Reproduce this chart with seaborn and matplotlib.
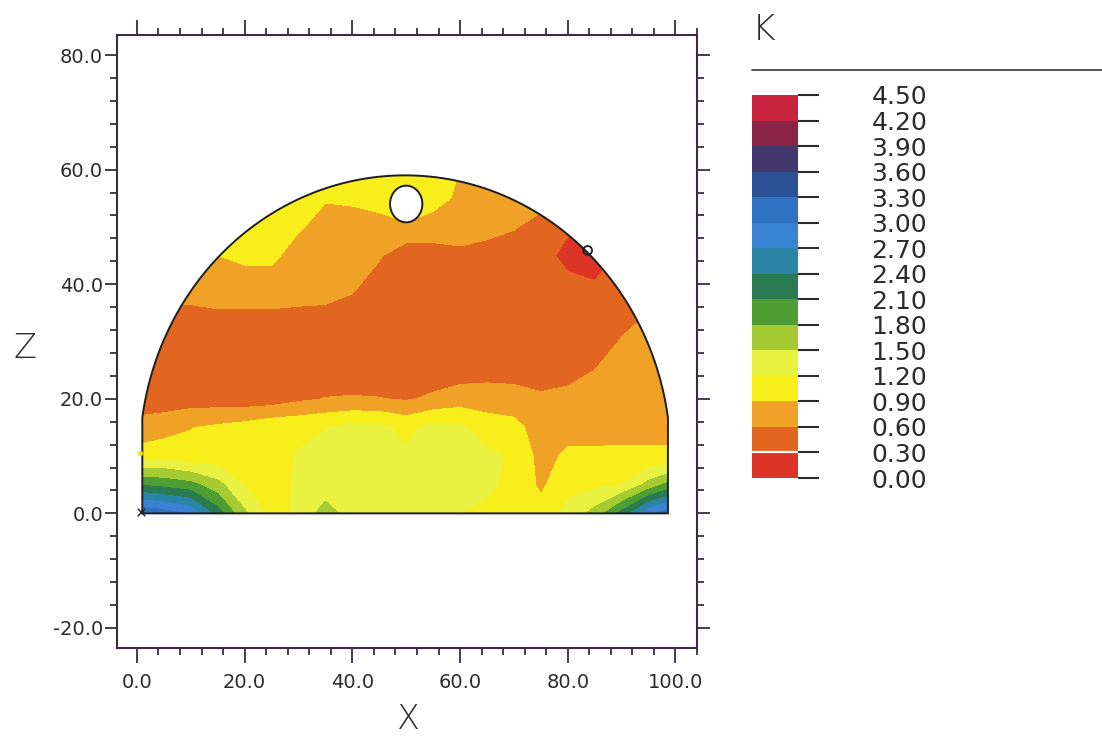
import numpy as np
import matplotlib
matplotlib.use("Agg")
import matplotlib.pyplot as plt
from matplotlib.colors import ListedColormap, BoundaryNorm
from matplotlib.patches import Polygon, Ellipse
from matplotlib.lines import Line2D
from matplotlib.ticker import MultipleLocator, FormatStrFormatter
import seaborn as sns

## data
# grid nodes (x across, z up)
x_nodes = np.arange(0, 101, 5)
z_nodes = np.arange(0, 61, 5)

# K values, one row per z level, x = 0, 5, ..., 100
k_z00 = [3.3, 3.15, 2.95, 2.25, 1.55, 1.1, 1.25, 1.65, 1.35, 1.25, 1.2, 1.25, 1.2, 1.15, 1.1, 1.0, 1.3, 1.6, 2.2, 2.9, 3.3]
k_z05 = [2.1, 2.0, 1.9, 1.6, 1.2, 1.05, 1.25, 1.3, 1.3, 1.25, 1.3, 1.32, 1.3, 1.25, 1.12, 0.85, 1.1, 1.15, 1.2, 1.6, 2.0]
k_z10 = [1.03, 1.11, 0.99, 1.0, 1.05, 1.1, 1.22, 1.3, 1.32, 1.3, 1.25, 1.3, 1.32, 1.28, 1.15, 0.8, 0.95, 0.95, 0.95, 0.95, 0.95]
k_z15 = [0.70, 0.76, 0.89, 0.95, 1.02, 1.12, 1.14, 1.19, 1.28, 1.27, 1.12, 1.3, 1.25, 1.05, 1.0, 0.75, 0.8, 0.8, 0.82, 0.82, 0.82]
k_z20 = [0.45, 0.45, 0.45, 0.44, 0.42, 0.44, 0.54, 0.61, 0.625, 0.61, 0.57, 0.65, 0.75, 0.75, 0.72, 0.65, 0.72, 0.7, 0.75, 0.78, 0.8]
k_z25 = [0.45, 0.42, 0.42, 0.42, 0.42, 0.40, 0.42, 0.42, 0.42, 0.43, 0.43, 0.43, 0.45, 0.48, 0.48, 0.45, 0.45, 0.6, 0.7, 0.75, 0.78]
k_z30 = [0.45, 0.45, 0.45, 0.45, 0.45, 0.42, 0.42, 0.42, 0.42, 0.42, 0.42, 0.42, 0.42, 0.42, 0.42, 0.42, 0.42, 0.45, 0.62, 0.7, 0.72]
k_z35 = [0.5, 0.55, 0.54, 0.57, 0.57, 0.57, 0.57, 0.55, 0.5, 0.44, 0.42, 0.42, 0.42, 0.42, 0.42, 0.42, 0.42, 0.42, 0.5, 0.6, 0.65]
k_z40 = [0.55, 0.7, 0.75, 0.78, 0.78, 0.78, 0.7, 0.72, 0.65, 0.48, 0.42, 0.44, 0.44, 0.43, 0.42, 0.4, 0.38, 0.32, 0.4, 0.5, 0.6]
k_z45 = [0.6, 0.85, 0.9, 0.9, 0.96, 0.96, 0.78, 0.76, 0.75, 0.63, 0.4, 0.5, 0.55, 0.5, 0.45, 0.42, 0.2, 0.15, 0.35, 0.45, 0.55]
k_z50 = [0.7, 1.0, 1.0, 1.0, 1.05, 1.05, 0.93, 0.8, 0.82, 0.82, 0.85, 0.72, 0.7, 0.68, 0.62, 0.5, 0.35, 0.3, 0.4, 0.5, 0.6]
k_z55 = [0.8, 1.0, 1.0, 1.0, 1.0, 1.05, 1.0, 0.92, 0.93, 0.98, 1.15, 1.05, 0.82, 0.8, 0.75, 0.7, 0.5, 0.5, 0.5, 0.6, 0.65]
k_z60 = [0.9, 1.0, 1.0, 1.0, 1.0, 1.0, 1.0, 1.0, 1.0, 1.0, 0.95, 1.0, 0.9, 0.85, 0.8, 0.8, 0.6, 0.6, 0.6, 0.7, 0.7]

# contour levels and band colours (0.00 ... 4.50)
levels = np.round(np.arange(0, 4.51, 0.3), 2)
band_colors = ["#dc3426", "#e2661f", "#f0a226", "#f8ee1c", "#e9f240",
               "#a6ca32", "#4e9e34", "#2a7a52", "#2a84a6", "#3a82d2",
               "#2f72c2", "#2a5294", "#43386e", "#8a2446", "#c8243e"]

# section outline: flat base, short sides, circular crown
base_left, base_right = 1.0, 98.6
arc_cx, arc_cz, arc_r = 49.8, 9.7, 49.3
hole_x, hole_z = 50.0, 54.0
probe_x, probe_z = 83.7, 45.9

## plot
sns.set_style("ticks")
plt.rcParams['font.family'] = ['DejaVu Sans']
ink = "#2b2b2b"
frame = "#3b2b45"

fig = plt.figure(figsize=(11.02, 7.39), dpi=100)
ax = fig.add_axes([117/1102, 91/739, 580/1102, 613/739])

k_grid = np.vstack([k_z00, k_z05, k_z10, k_z15, k_z20, k_z25, k_z30,
                    k_z35, k_z40, k_z45, k_z50, k_z55, k_z60])
cmap = ListedColormap(band_colors)
norm = BoundaryNorm(levels, cmap.N)
cs = ax.contourf(x_nodes, z_nodes, k_grid, levels=levels, cmap=cmap, norm=norm)

# clip to the section shape
th_r = np.arccos((base_right - arc_cx) / arc_r)
th_l = np.pi - np.arccos((arc_cx - base_left) / arc_r)
th = np.linspace(th_r, th_l, 200)
arc = np.column_stack([arc_cx + arc_r*np.cos(th), arc_cz + arc_r*np.sin(th)])
verts = np.vstack([[base_left, 0], [base_right, 0], arc])
shape = Polygon(verts, closed=True, facecolor='none', edgecolor='#1e1e1e',
                lw=1.4, zorder=3)
ax.add_patch(shape)
cs.set_clip_path(shape)

ax.add_patch(Ellipse((hole_x, hole_z), 6.0, 6.4, facecolor='white',
                     edgecolor='#1e1e1e', lw=1.4, zorder=4))

sns.scatterplot(x=[probe_x], y=[probe_z], ax=ax, s=40, marker='o',
                facecolor='none', edgecolor='#1e1e1e', linewidth=1.3, zorder=5)
sns.scatterplot(x=[0.8], y=[0.3], ax=ax, s=30, marker='x', color='#1e1e1e',
                linewidth=1.0, zorder=5)
sns.scatterplot(x=[0.6], y=[10.6], ax=ax, s=14, marker='o', color='#f2e21a',
                linewidth=0, zorder=5)

ax.set_xlim(-3.7, 104)
ax.set_ylim(-23.5, 83.5)
ax.xaxis.set_major_locator(MultipleLocator(20))
ax.xaxis.set_minor_locator(MultipleLocator(4))
ax.yaxis.set_major_locator(MultipleLocator(20))
ax.yaxis.set_minor_locator(MultipleLocator(4))
ax.xaxis.set_major_formatter(FormatStrFormatter('%.1f'))
ax.yaxis.set_major_formatter(FormatStrFormatter('%.1f'))
for sp in ax.spines.values():
    sp.set_visible(True)
    sp.set_color(frame)
    sp.set_linewidth(1.5)
ax.tick_params(which='both', direction='out', top=True, right=True,
               color=frame, width=1.3, labelcolor=ink, labelsize=14)
ax.tick_params(axis='x', which='major', length=11, pad=7)
ax.tick_params(axis='x', which='minor', length=5)
ax.tick_params(axis='y', which='major', length=9, pad=1)
ax.tick_params(axis='y', which='minor', length=5)

ax.set_xlabel("X", fontsize=24, color=ink, fontweight='light', labelpad=8)
ax.set_ylabel("Z", fontsize=24, color=ink, fontweight='light', rotation=0,
              va='center', ha='center')
ax.yaxis.set_label_coords(-0.159, 0.489)

# colour key
cax = fig.add_axes([752/1102, 261/739, 46/1102, 383/739])
cb = fig.colorbar(cs, cax=cax, ticks=levels)
cb.outline.set_visible(False)
cb.ax.yaxis.set_major_formatter(FormatStrFormatter('%.2f'))
cax.tick_params(length=15, width=1.5, color=ink, pad=38, labelcolor=ink,
                labelsize=18)
cax.axhline(0.3, color='white', lw=1.6)

fig.text(752/1102, 1 - 30/739, "K", fontsize=26, color=ink, va='center',
         ha='left', fontweight='light')
fig.add_artist(Line2D([752/1102, 1.0], [1 - 70/739, 1 - 70/739],
                      color='#444444', lw=1.3))

fig.savefig("out.png", dpi=100)
